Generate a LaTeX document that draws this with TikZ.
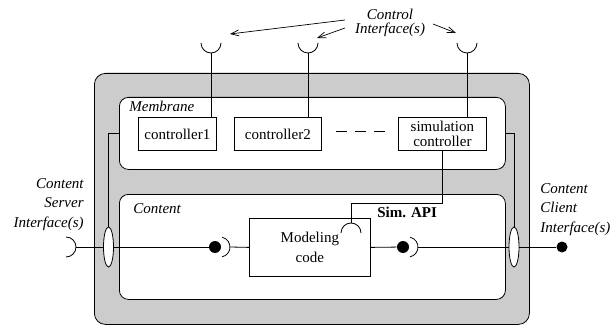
\documentclass[tikz,border=0pt]{standalone}
\usepackage{fontspec}
\setmainfont{Liberation Serif}
\usetikzlibrary{shapes.geometric,arrows.meta}
\definecolor{shell}{gray}{0.8}
\begin{document}
\begin{tikzpicture}[x=1pt,y=-1pt,line width=0.8pt,
  every node/.style={font=\fontsize{15}{19}\selectfont},
  region/.style={draw,fill=white,inner sep=0pt,anchor=north west,rounded corners=9pt},
  unit/.style={draw,fill=white,inner sep=0pt,anchor=north west,align=center},
  lab/.style={inner sep=0pt,font=\fontsize{15}{19.5}\selectfont\itshape},
  port/.style={ellipse,draw,fill=white,inner sep=0pt,minimum width=10pt,minimum height=40pt},
  ball/.style={circle,fill=black,inner sep=0pt,minimum size=#1},
  pointer/.style={-{Straight Barb[length=8pt,width=6pt]},line width=0.7pt}]

\useasboundingbox (0,0) rectangle (613,326);

% component shell, membrane and content
\node[draw,fill=shell,rounded corners=11pt,inner sep=0pt,anchor=north west,
      minimum width=435pt,minimum height=251pt] (outer) at (94,73) {};
\node[region,minimum width=386pt,minimum height=72pt] (membrane) at (119,97) {};
\node[region,minimum width=386pt,minimum height=105pt] (content) at (119,194) {};
\node[lab,anchor=base west] (mlab) at (129,112) {Membrane};
\node[lab,anchor=base west] (clab) at (133,213) {Content};

% controllers
\node[unit,minimum width=78pt,minimum height=33pt] (ctrl1) at (138,117) {controller1};
\node[unit,minimum width=87pt,minimum height=33pt] (ctrl2) at (234,117) {controller2};
\node[unit,minimum width=88pt,minimum height=33pt,
      font=\fontsize{15}{15}\selectfont] (simctl) at (398,117) {simulation\\controller};
\draw[line width=1.3pt,dash pattern=on 11pt off 8pt] (336,131.5) coordinate (d0) -- (385,131.5) coordinate (d1);

% modeling code
\node[unit,minimum width=121pt,minimum height=58pt,
      font=\fontsize{15}{20}\selectfont] (model) at (249,218) {Modeling\\code};

% control interfaces
\coordinate (cup1) at (211,53);
\coordinate (cup2) at (308,53);
\coordinate (cup3) at (467,53);
\foreach \c in {cup1,cup2,cup3}
  \draw (\c) ++(-10,-10) arc[start angle=180,end angle=0,radius=10];
\draw (cup1) -- (cup1 |- ctrl1.north);
\draw (cup2) -- (cup2 |- ctrl2.north);
\draw (cup3) -- (cup3 |- simctl.north);

% base anchor of a multi-line node sits on its last line
\node[lab,anchor=base,align=center,font=\fontsize{15}{14}\selectfont\itshape] (ctl) at (390,34) {Control\\Interface(s)};
\coordinate (p1s) at (345,20); \coordinate (p1e) at (230,34);
\coordinate (p2s) at (345,28); \coordinate (p2e) at (317,38);
\coordinate (p3s) at (433,24); \coordinate (p3e) at (456,33);
\draw[pointer] (p1s) -- (p1e);
\draw[pointer] (p2s) -- (p2e);
\draw[pointer] (p3s) -- (p3e);

% simulation API
\coordinate (api) at (351,223);
\draw (api) ++(-10,10) arc[start angle=180,end angle=360,radius=10];
\draw (simctl.south) -- ++(0,53) -| (api);
\node[inner sep=0pt,anchor=base west,font=\fontsize{15}{19}\selectfont\bfseries] (apilab) at (377,217) {Sim. API};

% content interfaces
\node[port] (lport) at (108.5,247) {};
\node[port] (rport) at (514,247) {};
\draw (membrane.west) -| (lport.north);
\draw (membrane.east) -| (rport.north);

\coordinate (srv) at (76,247);
\draw (srv) ++(-10,-10) arc[start angle=-90,end angle=90,radius=10];
\node[ball=12pt] (b1) at (215,247) {};
\node[ball=12pt] (b2) at (403,247) {};
\node[ball=11pt] (b3) at (562,247) {};
\coordinate (cupA) at (230,247);
\coordinate (cupB) at (418,247);
\draw (cupA) ++(-10,0) ++(-78:10) arc[start angle=-78,end angle=78,radius=10];
\draw (cupB) ++(-10,0) ++(-78:10) arc[start angle=-78,end angle=78,radius=10];

\draw (srv) -- (lport.west);
\draw (lport.east) -- (b1);
\draw (cupA) -- (model.west);
\draw (model.east) -- (b2);
\draw (cupB) -- (rport.west);
\draw (rport.east) -- (b3);

\node[lab,anchor=base east,align=right] (srvlab) at (84,227) {Content\\Server\\Interface(s)};
\node[lab,anchor=base west,align=left] (clilab) at (540,232) {Content\\Client\\Interface(s)};
\end{tikzpicture}
\end{document}
